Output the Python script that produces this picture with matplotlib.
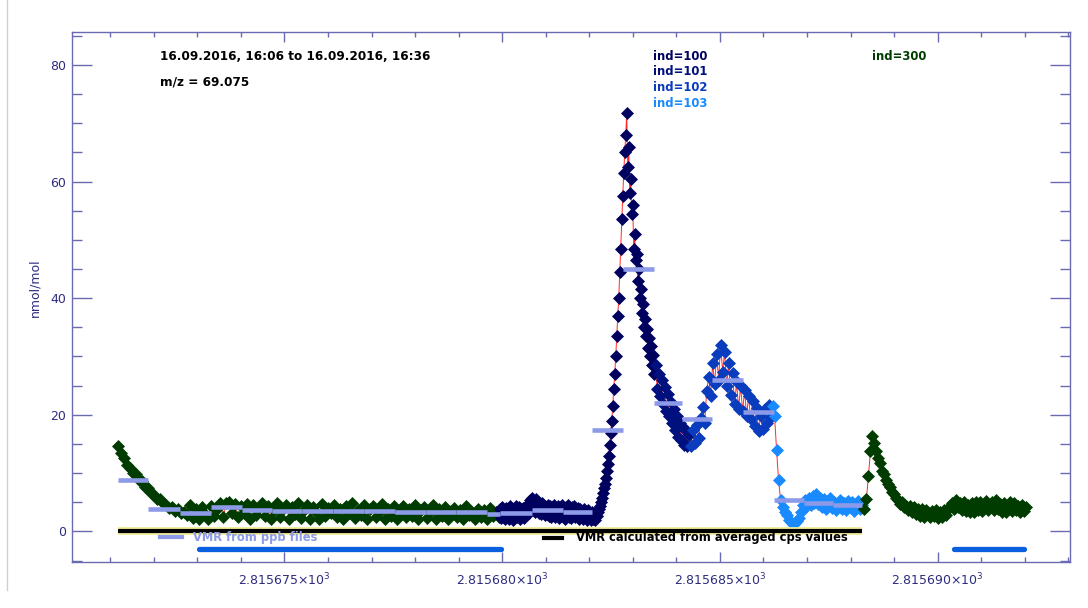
import numpy as np
import matplotlib
matplotlib.use("Agg")
import matplotlib.pyplot as plt
from matplotlib.lines import Line2D
from matplotlib.ticker import MultipleLocator, FuncFormatter

# ---- time series of m/z 69.075 (nmol/mol), split by inlet index ----
# each block: (first sample time, last sample time) in days, plus the values
T_IND300_A = (2815.671186, 2815.679924)
VMR_IND300_A = [
    14.6, 13.4, 12.6, 11.4, 10.9, 10.1, 9.8, 8.9, 8.6, 7.7, 7.4, 6.6, 6.3, 5.6, 5.5, 4.8,
    4.6, 4.0, 4.2, 3.5, 3.8, 3.1, 3.4, 2.8,
    4.6, 2.3, 3.9, 2.2, 4.2, 3.0, 2.2, 4.4, 2.6, 3.8, 4.9, 2.4, 4.9, 5.0, 3.2, 4.7,
    2.5, 4.3, 3.1, 4.7, 2.2, 4.5, 2.8, 4.0, 4.8, 2.7, 4.4, 2.2, 3.7, 4.8, 2.5, 3.9,
    4.6, 2.2, 4.1, 3.0, 4.8, 2.3, 3.6, 4.5, 2.2, 4.2, 3.3, 2.2, 4.7, 2.6, 4.0, 3.1,
    4.6, 2.4, 3.8, 2.2, 4.4, 3.2, 4.8, 2.3, 3.7, 2.8, 4.5, 2.2, 3.9, 4.3, 2.5, 3.4,
    4.7, 2.2, 3.8, 2.6, 4.3, 2.2, 3.5, 4.4, 2.4, 3.9, 2.7, 4.6, 2.2, 3.6, 4.1, 2.3,
    3.3, 4.5, 2.2, 3.8, 2.6, 4.2, 2.2, 3.5, 4.0, 2.4, 3.7, 2.2, 4.3, 2.8, 3.4, 2.2,
    3.9, 2.5, 3.6, 2.2, 4.0, 2.6, 3.3, 2.4,
]

T_IND100 = (2815.679947, 2815.683502)
VMR_IND100 = [
    # background
    3.9, 2.3, 4.2, 2.6, 3.6, 2.1, 4.0, 2.8, 3.5, 2.2, 4.3, 2.5, 3.7, 2.0, 3.9, 2.7,
    4.4, 2.4, 3.3, 4.1, 2.2, 3.8, 2.6, 4.0, 2.3, 4.2, 2.9, 3.6, 4.5, 3.1,
    5.4, 3.6, 5.8, 4.0, 5.2, 3.4, 5.6, 3.9, 4.8, 3.2, 4.6, 2.9, 4.9, 3.3, 4.4, 2.8,
    4.2, 3.0, 4.6, 2.7,
    4.3, 2.5, 4.1, 2.8, 4.6, 2.4, 3.9, 2.9, 4.4, 2.3, 4.0, 2.7, 4.5, 2.6, 3.8, 2.2,
    4.2, 2.9, 4.6, 2.5, 3.9, 2.3, 4.1, 2.8, 4.3, 2.4, 3.7, 2.6, 4.0, 2.2, 3.8, 2.7,
    3.5, 2.1, 3.9, 2.4, 3.3, 2.0, 3.6, 2.3, 3.2, 1.9, 3.4, 2.2, 3.1, 2.0, 3.3, 2.6,
    # rise
    3.4, 3.9, 4.4, 5.0, 5.8, 6.6, 7.4, 8.2, 9.2, 10.3, 11.5, 13.0, 14.8, 16.8, 19.0, 21.5,
    24.5, 27.0, 30.0, 33.5, 37.0, 40.0, 44.5, 48.5, 53.5, 57.5, 61.5, 65.0, 68.0, 71.8,
    # decay
    62.5, 66.0, 58.0, 60.5, 54.5, 56.0, 48.5, 51.0, 46.5, 47.5, 43.0, 45.0, 40.0, 41.5,
    37.5, 39.0, 35.0, 36.5, 33.5, 34.8, 31.5, 33.2, 30.0, 31.8, 28.5, 30.2, 27.0, 28.6,
]

T_IND101 = (2815.683525, 2815.684282)
VMR_IND101 = [
    28.5, 24.5, 27.0, 23.2, 26.0, 21.8, 24.8, 20.6, 23.5, 19.8, 22.2, 18.6, 21.0, 17.4,
    19.8, 16.2, 18.6, 15.6, 17.9, 14.9, 17.2, 14.6, 16.5,
]

T_IND102 = (2815.684328, 2815.686163)
VMR_IND102 = [
    14.6, 17.4, 15.2, 18.3, 16.0, 19.5, 21.3, 18.6, 24.0, 26.4, 23.2, 28.8, 25.2, 30.4,
    26.0, 32.0, 27.4, 30.8, 25.0, 28.8, 23.4, 27.2, 21.8, 25.6, 21.0, 25.0, 20.6, 24.2,
    19.8, 23.2, 19.2, 22.4, 18.0, 21.2, 17.2, 19.8, 17.6, 21.0, 18.6, 21.6, 19.6,
]

T_IND103 = (2815.686209, 2815.688273)
VMR_IND103 = [
    21.5, 19.8, 14.0, 8.8, 5.4, 4.2, 3.3, 2.8, 2.0, 1.6, 1.2, 1.4, 1.8, 2.3, 3.4, 4.6,
    5.4, 4.3, 5.8, 4.6, 6.1, 4.9, 6.4, 4.7, 5.8, 4.2, 5.5, 3.9, 5.0, 5.7, 4.0, 5.1,
    3.7, 4.8, 5.4, 3.8, 4.9, 3.6, 5.2, 4.1, 5.1, 3.5, 4.7, 5.2, 3.9, 4.6,
]

T_IND300_B = (2815.688319, 2815.692034)
VMR_IND300_B = [
    3.8, 5.6, 9.5, 13.8, 16.4, 15.2, 13.8, 12.6, 11.8, 10.4, 9.8, 8.9, 8.1, 7.6, 6.8, 6.4,
    5.7, 5.3, 4.7, 5.0, 4.2, 4.4, 3.6, 4.3, 3.3, 4.1, 2.9, 3.9, 2.7, 3.8, 2.5, 3.6,
    3.1, 2.4, 3.5, 2.6, 3.7, 2.3, 3.4, 2.5, 3.6, 2.8, 3.9, 4.3, 4.9, 3.9, 5.3, 4.1,
    4.8, 3.6, 5.0, 3.5, 4.6, 3.4, 4.8, 3.3, 5.0, 3.7, 5.1, 3.5, 4.7, 5.2, 3.6, 4.5,
    5.0, 3.6, 5.3, 3.9, 4.7, 3.4, 4.9, 3.3, 4.6, 5.0, 3.5, 4.8, 3.6, 4.4, 3.3, 4.6,
    3.5, 4.1,
]

# one-minute averages
AVG_EDGES = [
    2815.671186, 2815.671874, 2815.672608, 2815.673319, 2815.674030, 2815.674718,
    2815.675406, 2815.676117, 2815.676828, 2815.677539, 2815.678250, 2815.678938,
    2815.679649, 2815.679947, 2815.680681, 2815.681392, 2815.682057, 2815.682768,
    2815.683479, 2815.684122, 2815.684810, 2815.685521, 2815.686232, 2815.686920,
    2815.687608, 2815.688273,
]
AVG_PPB = [8.8, 3.9, 3.1, 4.1, 3.7, 3.5, 3.5, 3.5, 3.5, 3.3, 3.3, 3.3, 3.0,
           3.1, 3.7, 3.3, 17.4, 45.0, 22.1, 19.2, 26.0, 20.4, 5.4, 4.9, 4.6]
AVG_CPS = [0.0, 0.0, 0.0, 0.0, 0.0, 0.0, 0.0, 0.0, 0.0, 0.0, 0.0, 0.0, 0.0,
           0.0, 0.0, 0.0, 0.0, 0.0, 0.0, 0.0, 0.0, 0.0, 0.0, 0.0, 0.0]

# flagged periods
FLAG_SPANS = [(2815.673044, 2815.679970), (2815.690383, 2815.691989)]
FLAG_LEVEL = -3.0

IND_LABELS = ["ind=100", "ind=101", "ind=102", "ind=103"]

C300 = "#003c00"
C100 = "#00005e"
C101 = "#00107e"
C102 = "#0a3cbe"
C103 = "#1a8aff"
C_PPB = "#8d9ae8"
C_FLAG = "#0a5ee0"
AX_COL = "#6a6ab0"
LAB_COL = "#2d2d80"

blocks = [
    (T_IND300_A, VMR_IND300_A, C300),
    (T_IND100, VMR_IND100, C100),
    (T_IND101, VMR_IND101, C101),
    (T_IND102, VMR_IND102, C102),
    (T_IND103, VMR_IND103, C103),
    (T_IND300_B, VMR_IND300_B, C300),
]

W, H = 1088, 608
fx = lambda px: px / W
fy = lambda py: 1 - py / H

fig = plt.figure(figsize=(W / 100, H / 100), dpi=100)
ax = fig.add_axes([fx(72), fy(562), fx(1070) - fx(72), fy(32) - fy(562)])

all_t, all_v = [], []
for (t0, t1), vals, col in blocks:
    t = np.linspace(t0, t1, len(vals))
    all_t.append(t)
    all_v.append(np.array(vals))
    ax.plot(t, vals, ls="none", marker="D", ms=6.0, mfc=col, mec=col, mew=0.5, zorder=3)
ax.plot(np.concatenate(all_t), np.concatenate(all_v), color="#ff2a2a", lw=0.7, zorder=2)

# averaged values
ax.hlines(AVG_PPB, AVG_EDGES[:-1], AVG_EDGES[1:], colors=C_PPB, lw=3.3, zorder=4)
ax.plot([AVG_EDGES[0], AVG_EDGES[-1]], [AVG_CPS[0], AVG_CPS[-1]], color="#efec98",
        lw=5.6, solid_capstyle="butt", zorder=4)
ax.hlines(AVG_CPS, AVG_EDGES[:-1], AVG_EDGES[1:], colors="black", lw=3.0, zorder=5)

for a, b in FLAG_SPANS:
    ax.plot([a, b], [FLAG_LEVEL, FLAG_LEVEL], color=C_FLAG, lw=3.8,
            solid_capstyle="round", zorder=4)

ax.set_xlim(2815.67012, 2815.69304)
ax.set_ylim(-5.25, 85.66)

ax.xaxis.set_major_locator(MultipleLocator(0.005))
ax.xaxis.set_minor_locator(MultipleLocator(0.001))
ax.yaxis.set_major_locator(MultipleLocator(20))
ax.yaxis.set_minor_locator(MultipleLocator(5))
ax.xaxis.set_major_formatter(FuncFormatter(lambda v, p: f"{v / 1000:.6f}×10$^{{3}}$"))
ax.yaxis.set_major_formatter(FuncFormatter(lambda v, p: f"{v:.0f}"))

ax.tick_params(which="both", direction="in", top=True, right=True,
               color=AX_COL, labelcolor=LAB_COL, labelsize=9, width=1)
ax.tick_params(axis="y", which="major", length=14.5, pad=4)
ax.tick_params(axis="y", which="minor", length=7.2)
ax.tick_params(axis="x", which="major", length=7.5, pad=7)
ax.tick_params(axis="x", which="minor", length=3.6)
for s in ax.spines.values():
    s.set_color(AX_COL)
    s.set_linewidth(1.0)

fig.text(fx(35), fy(288), "nmol/mol", rotation=90, ha="center", va="center",
         color=LAB_COL, fontsize=9)

# header text
fig.text(fx(160), fy(57), "16.09.2016, 16:06 to 16.09.2016, 16:36", ha="left", va="center",
         fontsize=8.7, fontweight="bold", color="black")
fig.text(fx(160), fy(82), "m/z = 69.075", ha="left", va="center",
         fontsize=8.7, fontweight="bold", color="black")
for i, (lab, col) in enumerate(zip(IND_LABELS, [C100, C101, C102, C103])):
    fig.text(fx(653), fy(56 + 15.7 * i), lab, ha="left", va="center",
             fontsize=8.4, fontweight="bold", color=col)
fig.text(fx(872), fy(56), "ind=300", ha="left", va="center",
         fontsize=8.4, fontweight="bold", color=C300)

# legend entries
fig.add_artist(Line2D([fx(160), fx(182)], [fy(537), fy(537)], color=C_PPB, lw=3))
fig.text(fx(193), fy(537), "VMR from ppb files", ha="left", va="center",
         fontsize=8.3, fontweight="bold", color=C_PPB)
fig.add_artist(Line2D([fx(544), fx(562)], [fy(538), fy(538)], color="black", lw=3))
fig.text(fx(576), fy(538), "VMR calculated from averaged cps values", ha="left", va="center",
         fontsize=8.3, fontweight="bold", color="black")

# window border
fig.add_artist(Line2D([fx(7), fx(7)], [fy(590), 1.0], color="#cfcfcf", lw=1))

fig.savefig("out.png", dpi=100)
